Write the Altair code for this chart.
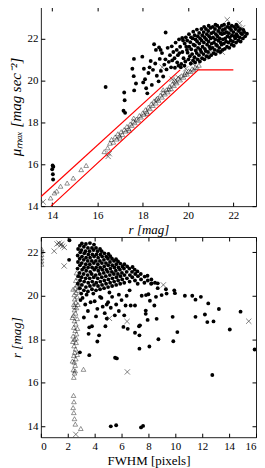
import altair as alt
import pandas as pd

# ---------------- top panel: r [mag] vs mu_max ----------------
top_galaxies = [
    (14.02, 15.94), (14.05, 15.88), (14.00, 15.76), (14.03, 15.52), (14.04, 15.27),
    (16.36, 19.68), (17.18, 19.42), (17.20, 19.05), (17.15, 18.55), (17.22, 18.45),
    (17.61, 21.02), (17.54, 20.55), (17.60, 20.20), (17.62, 19.52), (17.70, 19.85),
    (17.98, 21.13), (18.05, 20.55), (18.10, 20.05), (18.02, 19.90), (18.15, 19.62),
    (18.20, 19.38), (18.25, 20.35), (18.30, 20.62), (18.35, 20.92), (18.45, 20.50),
    (18.50, 21.72), (18.58, 21.45), (18.55, 20.80), (18.62, 20.22), (18.70, 19.95),
    (18.40, 19.78), (18.72, 21.57), (18.79, 21.45), (18.75, 21.02), (18.80, 20.45),
    (18.85, 21.30), (18.90, 20.18), (18.95, 20.75), (19.01, 22.28), (19.00, 21.00),
    (19.05, 20.52), (19.10, 21.55), (19.15, 20.88), (19.20, 21.20), (19.25, 20.62),
    (19.28, 21.62), (19.35, 21.35), (19.30, 20.95), (19.40, 21.05), (19.45, 21.80),
    (19.50, 21.45), (19.55, 21.20), (19.52, 20.85), (19.60, 21.95), (19.65, 21.60),
    (19.70, 20.78), (19.42, 20.60), (19.75, 21.35), (19.80, 21.05), (19.85, 21.75),
    (19.90, 22.05), (19.95, 21.45), (19.62, 21.30), (19.78, 21.90), (19.88, 20.90),
    (19.92, 21.60), (19.74, 22.02), (19.68, 20.62), (19.84, 20.70), (19.58, 20.70),
    # dense cloud
    (20.02, 21.00), (19.98, 21.32), (20.05, 21.60), (19.96, 21.90), (20.04, 22.20),
    (20.12, 20.80), (20.08, 21.15), (20.14, 21.48), (20.10, 21.82), (20.13, 22.05),
    (20.22, 20.95), (20.18, 21.25), (20.24, 21.70), (20.20, 22.00), (20.23, 22.32),
    (20.31, 20.85), (20.28, 21.10), (20.34, 21.42), (20.30, 21.66), (20.33, 21.95),
    (20.29, 22.15), (20.42, 21.00), (20.38, 21.30), (20.44, 21.55), (20.40, 21.85),
    (20.43, 22.10), (20.39, 22.42), (20.52, 20.90), (20.48, 21.20), (20.54, 21.46),
    (20.50, 21.75), (20.53, 22.00), (20.49, 22.26), (20.62, 21.05), (20.58, 21.35),
    (20.64, 21.60), (20.60, 21.90), (20.63, 22.15), (20.59, 22.45), (20.72, 21.00),
    (20.68, 21.25), (20.74, 21.50), (20.70, 21.80), (20.73, 22.05), (20.69, 22.30),
    (20.71, 22.55), (20.82, 21.15), (20.78, 21.40), (20.84, 21.70), (20.80, 21.95),
    (20.83, 22.20), (20.79, 22.45), (20.92, 21.10), (20.88, 21.35), (20.94, 21.60),
    (20.90, 21.85), (20.93, 22.10), (20.89, 22.35), (20.91, 22.60), (21.02, 21.20),
    (20.98, 21.50), (21.04, 21.75), (21.00, 22.00), (21.03, 22.25), (20.99, 22.50),
    (21.12, 21.30), (21.08, 21.55), (21.14, 21.80), (21.10, 22.05), (21.13, 22.30),
    (21.09, 22.55), (21.22, 21.25), (21.18, 21.45), (21.24, 21.70), (21.20, 21.95),
    (21.23, 22.20), (21.19, 22.45), (21.21, 22.65), (21.32, 21.40), (21.28, 21.65),
    (21.34, 21.90), (21.30, 22.10), (21.33, 22.35), (21.29, 22.60), (21.42, 21.35),
    (21.38, 21.55), (21.44, 21.80), (21.40, 22.00), (21.43, 22.25), (21.39, 22.50),
    (21.52, 21.45), (21.48, 21.70), (21.54, 21.95), (21.50, 22.20), (21.53, 22.40),
    (21.49, 22.60), (21.62, 21.50), (21.58, 21.75), (21.64, 22.00), (21.60, 22.25),
    (21.63, 22.45), (21.59, 22.65), (21.72, 21.60), (21.68, 21.85), (21.74, 22.10),
    (21.70, 22.30), (21.73, 22.55), (21.82, 21.55), (21.78, 21.80), (21.84, 22.05),
    (21.80, 22.25), (21.83, 22.50), (21.79, 22.70), (21.92, 21.70), (21.88, 21.90),
    (21.94, 22.15), (21.90, 22.40), (21.93, 22.60), (22.02, 21.65), (21.98, 21.85),
    (22.04, 22.10), (22.00, 22.30), (22.03, 22.55), (22.12, 21.80), (22.08, 22.00),
    (22.14, 22.20), (22.10, 22.45), (22.13, 22.65), (22.22, 21.90), (22.18, 22.10),
    (22.24, 22.35), (22.20, 22.55), (22.32, 21.85), (22.28, 22.05), (22.34, 22.25),
    (22.30, 22.45), (22.42, 22.00), (22.38, 22.20), (22.44, 22.40), (22.52, 22.10),
    (22.48, 22.30), (22.60, 22.22),
]

top_stars = [
    (13.93, 14.39), (14.10, 14.63), (14.20, 14.72), (14.37, 14.95), (14.66, 15.10),
    (14.93, 15.34), (15.28, 15.74), (15.50, 15.94), (16.30, 16.60), (16.45, 16.78),
    (16.55, 17.00), (16.62, 17.18), (16.70, 17.05), (16.78, 17.30), (16.85, 17.20),
    (16.90, 17.45), (16.98, 17.35), (17.05, 17.55), (17.10, 17.42), (17.18, 17.65),
    (17.25, 17.58), (17.30, 17.80), (17.38, 17.70), (17.45, 17.92), (17.52, 17.85),
    (17.58, 18.05), (17.65, 17.98), (17.72, 18.15), (17.80, 18.10), (17.85, 18.32),
    (17.92, 18.25), (18.00, 18.45), (18.05, 18.38), (18.12, 18.60), (18.18, 18.50),
    (18.25, 18.72), (18.32, 18.65), (18.38, 18.88), (18.45, 18.80), (18.50, 19.02),
    (18.58, 18.92), (18.65, 19.15), (18.70, 19.05), (18.78, 19.30), (18.85, 19.20),
    (18.90, 19.42), (18.98, 19.35), (19.05, 19.55), (19.10, 19.45), (19.18, 19.70),
    (19.25, 19.60), (19.30, 19.82), (19.38, 19.75), (19.45, 19.95), (19.50, 19.88),
    (19.58, 20.10), (19.65, 20.02), (19.72, 20.22), (19.80, 20.15), (19.88, 20.38),
    (19.95, 20.30), (20.02, 20.45), (20.10, 20.42), (20.18, 20.55), (20.25, 20.50),
    (20.32, 20.62), (20.40, 20.60), (20.48, 20.72), (17.00, 17.25), (17.60, 18.20),
    (18.20, 18.42), (18.90, 19.55), (19.40, 20.00), (17.40, 17.62), (18.60, 19.10),
    (19.15, 19.58), (19.85, 20.28),
]

top_crosses = [
    (13.60, 14.20), (16.47, 16.37), (16.52, 16.50), (18.86, 20.63), (19.30, 20.05),
    (19.55, 20.15), (19.90, 20.55), (20.20, 20.80), (20.45, 21.00), (20.78, 21.10),
    (20.95, 21.30), (21.10, 21.55), (21.40, 21.90), (21.51, 21.34), (21.73, 22.89),
    (22.28, 22.72), (21.90, 22.50), (22.20, 22.40), (22.40, 22.50), (21.50, 22.30),
]

# selection boundary (red)
cut_upper = [(13.50, 14.45), (19.65, 20.50)]
cut_lower = [(13.95, 14.00), (20.45, 20.50), (22.00, 20.50)]

top_xticks = [14, 16, 18, 20, 22]
top_yticks = [14, 16, 18, 20, 22]

# ---------------- bottom panel: FWHM vs r ----------------
bot_galaxies = [
    # sparse part
    (3.10, 19.90), (3.30, 19.60), (3.50, 19.30), (3.20, 19.00), (3.60, 18.55),
    (3.80, 18.60), (3.55, 18.25), (3.60, 17.27), (4.00, 19.75), (4.20, 19.40),
    (4.10, 19.05), (4.33, 18.18), (4.20, 17.90), (4.50, 19.90), (4.60, 19.50),
    (4.75, 19.20), (4.90, 18.95), (4.80, 18.60), (5.00, 19.70), (5.20, 19.45),
    (5.30, 19.95), (5.50, 19.10), (5.60, 19.60), (5.65, 17.12), (5.52, 17.15),
    (5.80, 19.30), (6.00, 19.80), (6.14, 18.57), (6.30, 19.55), (6.38, 20.00),
    (6.46, 18.48), (6.68, 19.55), (7.00, 19.55), (7.00, 18.30), (7.30, 18.60),
    (7.33, 18.18), (7.33, 17.57), (7.37, 18.64), (7.50, 20.00), (7.80, 19.32),
    (7.80, 19.17), (7.82, 20.03), (7.94, 18.89), (8.00, 20.07), (8.07, 17.67),
    (8.11, 19.77), (8.24, 20.57), (8.44, 19.55), (8.49, 20.60), (8.56, 19.95),
    (8.61, 18.94), (8.69, 20.35), (8.69, 20.57), (8.74, 18.00), (8.98, 20.03),
    (9.30, 20.30), (9.35, 20.10), (9.80, 19.03), (9.85, 17.91), (9.92, 20.25),
    (9.97, 20.12), (10.15, 18.33), (10.71, 20.00), (11.26, 20.00), (11.50, 19.82),
    (11.50, 19.03), (11.90, 19.95), (12.20, 19.14), (12.38, 18.79), (12.45, 19.65),
    (12.75, 16.36), (12.84, 18.82), (13.24, 19.39), (14.05, 18.45), (14.85, 19.27),
    (15.90, 17.53), (5.20, 14.00), (5.60, 14.05), (7.45, 13.95), (7.60, 14.02),
    (2.13, 22.55), (2.10, 21.65), (2.90, 17.40), (2.95, 19.80), (3.40, 20.05),
    (3.90, 20.10), (4.40, 19.95), (5.10, 20.15), (5.80, 20.05), (6.60, 20.25),
    (3.00, 20.10), (3.70, 19.70), (4.90, 19.60), (6.20, 19.10),
    # dense part
    (2.75, 20.55), (2.78, 20.90), (2.73, 21.25), (2.76, 21.55), (2.74, 21.85), (2.77, 22.15),
    (2.90, 20.35), (2.92, 20.70), (2.88, 21.05), (2.91, 21.40), (2.89, 21.70), (2.93, 22.00), (2.90, 22.30),
    (3.05, 20.50), (3.03, 20.85), (3.07, 21.20), (3.04, 21.50), (3.06, 21.80), (3.02, 22.10), (3.05, 22.40),
    (3.20, 20.25), (3.22, 20.65), (3.18, 21.00), (3.21, 21.30), (3.19, 21.65), (3.23, 21.95), (3.20, 22.25),
    (3.35, 20.40), (3.33, 20.80), (3.37, 21.15), (3.34, 21.45), (3.36, 21.75), (3.32, 22.05), (3.35, 22.38),
    (3.50, 20.20), (3.52, 20.60), (3.48, 20.95), (3.51, 21.30), (3.49, 21.60), (3.53, 21.90), (3.50, 22.20),
    (3.65, 20.45), (3.63, 20.80), (3.67, 21.10), (3.64, 21.45), (3.66, 21.75), (3.62, 22.05), (3.65, 22.42),
    (3.80, 20.30), (3.82, 20.65), (3.78, 21.00), (3.81, 21.30), (3.79, 21.60), (3.83, 21.90), (3.80, 22.20),
    (3.95, 20.50), (3.93, 20.85), (3.97, 21.20), (3.94, 21.50), (3.96, 21.80), (3.92, 22.10), (3.95, 22.35),
    (4.10, 20.25), (4.12, 20.60), (4.08, 20.95), (4.11, 21.30), (4.09, 21.60), (4.13, 21.90), (4.10, 22.20),
    (4.25, 20.45), (4.23, 20.80), (4.27, 21.15), (4.24, 21.45), (4.26, 21.75), (4.22, 22.05),
    (4.40, 20.30), (4.42, 20.65), (4.38, 21.00), (4.41, 21.30), (4.39, 21.60), (4.43, 21.90), (4.40, 22.15),
    (4.55, 20.50), (4.53, 20.85), (4.57, 21.20), (4.54, 21.50), (4.56, 21.80), (4.52, 22.05),
    (4.70, 20.35), (4.72, 20.70), (4.68, 21.05), (4.71, 21.35), (4.69, 21.65), (4.73, 21.95),
    (4.85, 20.55), (4.83, 20.90), (4.87, 21.20), (4.84, 21.50), (4.86, 21.80),
    (5.00, 20.40), (5.02, 20.75), (4.98, 21.10), (5.01, 21.40), (4.99, 21.70), (5.03, 21.92),
    (5.15, 20.60), (5.13, 20.95), (5.17, 21.25), (5.14, 21.55), (5.16, 21.82),
    (5.30, 20.45), (5.32, 20.80), (5.28, 21.10), (5.31, 21.40), (5.29, 21.70),
    (5.45, 20.65), (5.43, 21.00), (5.47, 21.30), (5.44, 21.60),
    (5.60, 20.50), (5.62, 20.85), (5.58, 21.15), (5.61, 21.45), (5.59, 21.68),
    (5.75, 20.70), (5.73, 21.00), (5.77, 21.30), (5.74, 21.58),
    (5.90, 20.55), (5.92, 20.90), (5.88, 21.20), (5.91, 21.48),
    (6.05, 20.75), (6.03, 21.05), (6.07, 21.35),
    (6.20, 20.60), (6.22, 20.95), (6.18, 21.25), (6.21, 21.45),
    (6.40, 20.80), (6.38, 21.10), (6.42, 21.35),
    (6.60, 20.65), (6.62, 20.95), (6.58, 21.25),
    (6.80, 20.85), (6.78, 21.10), (6.82, 21.32),
    (7.00, 20.70), (7.02, 21.00), (6.98, 21.20),
    (7.20, 20.55), (7.22, 20.90), (7.18, 21.12),
    (7.45, 20.75), (7.43, 21.00), (7.70, 20.60), (7.72, 20.88),
    (7.95, 20.70), (7.93, 20.92), (8.20, 20.55), (8.22, 20.75),
]

bot_stars = [
    (0.05, 21.45), (0.05, 21.60), (0.05, 21.75), (0.05, 21.90), (0.05, 22.05), (0.05, 22.15),
    (2.45, 16.25), (2.50, 16.45), (2.42, 16.60), (2.55, 16.80), (2.48, 16.95), (2.60, 17.10),
    (2.45, 17.25), (2.52, 17.40), (2.58, 17.55), (2.47, 17.70), (2.62, 17.85), (2.50, 18.00),
    (2.40, 18.15), (2.65, 18.25), (2.55, 18.40), (2.45, 18.55), (2.60, 18.70), (2.50, 18.85),
    (2.70, 18.95), (2.42, 19.10), (2.58, 19.20), (2.50, 19.35), (2.65, 19.45), (2.45, 19.60),
    (2.60, 19.70), (2.52, 19.85), (2.70, 19.95), (2.48, 20.05), (2.62, 20.15), (2.75, 20.25),
    (2.55, 20.35), (2.68, 20.50), (2.80, 20.60), (2.60, 20.70), (2.75, 20.85), (2.90, 20.95),
    (2.65, 21.05), (2.35, 17.00), (2.70, 17.30), (2.38, 17.90), (2.72, 18.50), (2.35, 19.00),
    (2.75, 19.60), (2.40, 20.30), (2.85, 20.40), (2.55, 16.55), (2.62, 18.05), (2.50, 19.50),
    (2.43, 15.42), (2.46, 15.13), (2.40, 14.86), (2.45, 14.63), (2.50, 14.35), (2.56, 14.10),
    (2.97, 13.90), (3.17, 16.62),
]

bot_crosses = [
    (0.99, 22.05), (1.20, 22.38), (1.35, 22.42), (1.45, 22.33), (1.55, 22.38), (1.62, 22.28),
    (1.75, 22.22), (1.73, 21.37), (2.60, 13.63), (9.11, 20.50), (6.41, 18.82), (6.43, 16.50),
    (15.46, 18.83), (5.10, 18.96),
]

bot_xticks = [0, 2, 4, 6, 8, 10, 12, 14, 16]
bot_yticks = [14, 16, 18, 20, 22]

SERIF = "Liberation Serif"
CROSS = "M-1,-1L1,1M-1,1L1,-1"


def df(pairs):
    return pd.DataFrame(pairs, columns=["x", "y"])


def panel(gal, stars, crosses, lines, xdom, ydom, xt, yt, xtitle, ytitle,
          xstyle, ystyle, ytitle_size, w, h):
    xs = alt.Scale(domain=xdom, nice=False, zero=False)
    ys = alt.Scale(domain=ydom, nice=False, zero=False)
    xa = alt.Axis(values=xt, title=xtitle, titleFontStyle=xstyle, format="d")
    ya = alt.Axis(values=yt, title=ytitle, titleFontStyle=ystyle, format="d",
                  titleFontSize=ytitle_size)
    xa2 = alt.Axis(values=xt, orient="top", labels=False, title=None)
    ya2 = alt.Axis(values=yt, orient="right", labels=False, title=None)

    g = alt.Chart(df(gal)).mark_circle(size=15, color="black", opacity=1, clip=True).encode(
        x=alt.X("x:Q", scale=xs, axis=xa), y=alt.Y("y:Q", scale=ys, axis=ya))
    s = alt.Chart(df(stars)).mark_point(shape="triangle-up", filled=False, color="black",
                                        size=22, strokeWidth=0.6, clip=True).encode(
        x=alt.X("x:Q", scale=xs, axis=xa2), y=alt.Y("y:Q", scale=ys, axis=ya2))
    c = alt.Chart(df(crosses)).mark_point(shape=CROSS, filled=False, color="black",
                                          size=28, strokeWidth=0.7, clip=True).encode(
        x=alt.X("x:Q", scale=xs, axis=None), y=alt.Y("y:Q", scale=ys, axis=None))
    layers = [g, s, c]
    for seg in lines:
        d = df(seg)
        d["o"] = range(len(d))
        layers.append(alt.Chart(d).mark_line(color="#ff0000", strokeWidth=1.2, clip=True).encode(
            x=alt.X("x:Q", scale=xs, axis=None), y=alt.Y("y:Q", scale=ys, axis=None),
            order="o:O"))
    return alt.layer(*layers).resolve_axis(x="independent", y="independent").properties(
        width=w, height=h)


top = panel(top_galaxies, top_stars, top_crosses, [cut_upper, cut_lower],
            [13.5, 23.0], [14.0, 23.5], top_xticks, top_yticks,
            "r [mag]", "μₘₐₓ [mag sec⁻²]", "italic", "italic", 15, 216, 200)
bottom = panel(bot_galaxies, bot_stars, bot_crosses, [],
               [0.0, 16.0], [13.5, 22.7], bot_xticks, bot_yticks,
               "FWHM [pixels]", "r [mag]", "normal", "italic", 13, 216, 201)

chart = alt.vconcat(top, bottom, spacing=-4).properties(
    padding={"left": 0, "top": -3, "right": 0, "bottom": 0},
    background="white",
).configure_view(stroke="#222222", strokeWidth=1).configure_axis(
    domain=False, grid=False, tickSize=4, offset=-4, tickColor="black", tickWidth=1,
    labelFont=SERIF, labelFontSize=11, labelColor="black", labelPadding=3,
    titleFont=SERIF, titleFontSize=13, titleFontWeight="normal", titleColor="black",
    titlePadding=3,
)

chart.save("out.html", embed_options={"renderer": "svg", "actions": False})
